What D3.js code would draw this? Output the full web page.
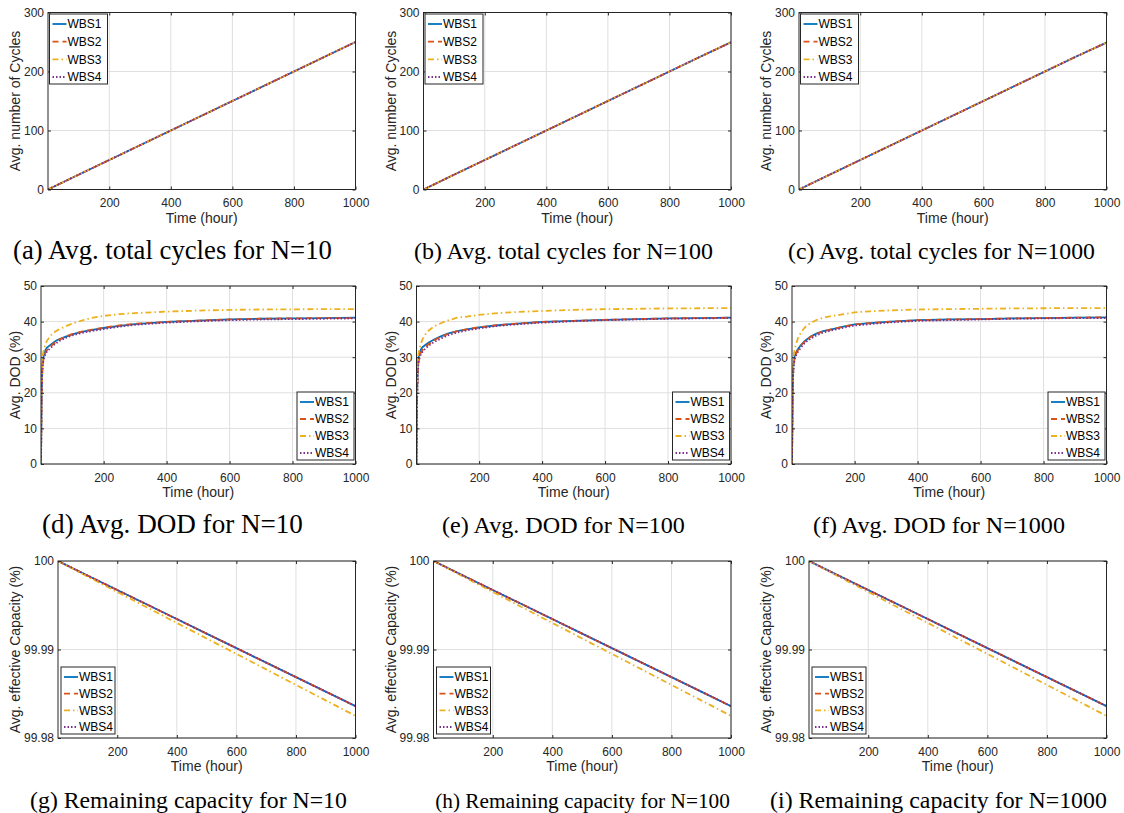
<!DOCTYPE html>
<html>
<head>
<meta charset="utf-8">
<script src="https://cdn.jsdelivr.net/npm/d3@7"></script>
<style>
  body { margin: 0; background: #fff; }
  svg { display: block; }
  .tick text { font-family: "Liberation Sans", Arial, sans-serif; font-size: 12px; fill: #262626; }
  .axis-label { font-family: "Liberation Sans", Arial, sans-serif; font-size: 14px; fill: #262626; }
  .legend-text { font-family: "Liberation Sans", Arial, sans-serif; font-size: 12px; fill: #000; }
  .caption { font-family: "Liberation Serif", "Times New Roman", serif; font-size: 26px; fill: #000; }
</style>
</head>
<body>
<div id="chart"></div>
<script>
// ---- Data ----
const seriesNames = ["WBS1", "WBS2", "WBS3", "WBS4"];

const xTicks = [200, 400, 600, 800, 1000];
const cycleTicks = [0, 100, 200, 300];
const dodTicks = [0, 10, 20, 30, 40, 50];
const capTicks = [99.98, 99.99, 100];

const captions = [
    "(a) Avg. total cycles for N=10", "(b) Avg. total cycles for N=100", "(c) Avg. total cycles for N=1000",
    "(d) Avg. DOD for N=10", "(e) Avg. DOD for N=100", "(f) Avg. DOD for N=1000",
    "(g) Remaining capacity for N=10", "(h) Remaining capacity for N=100", "(i) Remaining capacity for N=1000"
];
const yLabels = ["Avg. number of Cycles", "Avg. DOD (%)", "Avg. effective Capacity (%)"];

// total cycles (all four strategies overlap)
const cycleTime = [1, 100, 200, 300, 400, 500, 600, 700, 800, 900, 1000];
const cyclesN10 = [0, 25, 50, 75, 100, 125, 150, 175, 200, 225, 250];
const cyclesN100 = [0, 25, 50, 75, 100, 125, 150, 175, 200, 225, 249.5];
const cyclesN1000 = [0, 25, 50, 75, 100, 125, 150, 175, 200, 225, 249];

// depth of discharge
const dodTime = [1, 2, 3, 5, 7, 10, 15, 20, 30, 40, 50, 60, 80, 100, 130, 160, 200, 250, 300, 400, 500, 600, 700, 800, 900, 1000];
const dodN10Wbs1 = [0, 10, 20, 27, 29, 30.5, 32, 32.7, 33.4, 34.1, 34.7, 35.1, 35.8, 36.4, 37.1, 37.6, 38.2, 38.8, 39.3, 39.9, 40.3, 40.6, 40.8, 40.9, 41.0, 41.1];
const dodN10Wbs2 = [0, 9, 19, 26, 28.5, 30, 31.2, 32, 32.9, 33.7, 34.4, 35, 35.8, 36.5, 37.2, 37.7, 38.3, 38.9, 39.4, 39.9, 40.3, 40.6, 40.8, 40.9, 41.0, 41.0];
const dodN10Wbs3 = [0, 12, 23, 29, 30.8, 32.2, 33.6, 34.6, 35.9, 36.8, 37.4, 37.9, 38.7, 39.4, 40.3, 41.0, 41.6, 42.1, 42.4, 42.8, 43.1, 43.3, 43.4, 43.45, 43.5, 43.5];
const dodN10Wbs4 = [0, 8, 18, 25.5, 28, 29.5, 30.8, 31.6, 32.5, 33.3, 34, 34.6, 35.4, 36.1, 36.8, 37.3, 37.9, 38.6, 39.1, 39.7, 40.1, 40.4, 40.6, 40.7, 40.8, 40.9];

const dodN100Wbs1 = [0, 10, 20, 27, 29.5, 31, 32.2, 32.8, 33.5, 34.1, 34.6, 35.1, 35.9, 36.6, 37.3, 37.8, 38.4, 38.9, 39.3, 39.9, 40.2, 40.5, 40.7, 40.9, 41.0, 41.1];
const dodN100Wbs2 = [0, 9, 19, 26, 28.5, 30, 31.3, 32, 33, 33.7, 34.3, 34.9, 35.8, 36.5, 37.3, 37.8, 38.4, 38.9, 39.3, 39.9, 40.2, 40.5, 40.7, 40.9, 41.0, 41.1];
const dodN100Wbs3 = [0, 12, 23, 29, 30.8, 32.2, 33.8, 35, 36.5, 37.5, 38.2, 38.8, 39.6, 40.3, 41.1, 41.4, 41.9, 42.3, 42.6, 43.0, 43.3, 43.5, 43.6, 43.7, 43.75, 43.8];
const dodN100Wbs4 = [0, 8, 18, 25.5, 28, 29.5, 30.8, 31.5, 32.5, 33.2, 33.9, 34.4, 35.3, 36.1, 36.9, 37.5, 38.1, 38.7, 39.1, 39.7, 40.1, 40.4, 40.6, 40.8, 40.9, 41.0];

const dodN1000Wbs1 = [0, 10, 20, 27, 29, 30.5, 31.5, 32.3, 33.5, 34.4, 35.1, 35.8, 36.7, 37.3, 37.9, 38.5, 39.2, 39.6, 39.9, 40.4, 40.6, 40.7, 40.9, 41.0, 41.1, 41.2];
const dodN1000Wbs2 = [0, 9, 19, 26, 28.5, 30, 31.2, 32, 33.3, 34.3, 35, 35.7, 36.6, 37.3, 37.9, 38.5, 39.2, 39.6, 39.9, 40.4, 40.6, 40.7, 40.9, 41.0, 41.1, 41.2];
const dodN1000Wbs3 = [0, 12, 23, 29, 31, 32.5, 34, 35.3, 37, 38.2, 39, 39.6, 40.5, 41.1, 41.6, 42.0, 42.6, 42.9, 43.1, 43.4, 43.5, 43.6, 43.7, 43.75, 43.8, 43.8];
const dodN1000Wbs4 = [0, 8, 18, 25.5, 28, 29.5, 30.7, 31.5, 32.8, 33.8, 34.6, 35.2, 36.2, 36.9, 37.6, 38.2, 38.9, 39.3, 39.7, 40.2, 40.4, 40.6, 40.8, 40.9, 41.0, 41.0];

// remaining effective capacity (WBS1/2/4 coincide, WBS3 slightly lower)
const capTime = [1, 100, 200, 300, 400, 500, 600, 700, 800, 900, 1000];
const capWbs124 = [100, 99.99836, 99.99672, 99.99508, 99.99344, 99.9918, 99.99016, 99.98852, 99.98688, 99.98524, 99.9836];
const capWbs3 = [100, 99.99825, 99.9965, 99.99475, 99.993, 99.99125, 99.9895, 99.98775, 99.986, 99.98425, 99.9825];

// ---- Styles ----
const colors = ["#0072BD", "#D95319", "#EDB120", "#7E2F8E"];
const dashes = [null, "6,4", "6,3,1.5,3", "1.5,2"];

const width = 1124;
const height = 813;

const svg = d3.select("#chart")
    .append("svg")
    .attr("width", width)
    .attr("height", height);

// Layout of the 3x3 grid
const colOffset = [0, 375.5, 751];
const rows = [
    {left: 48, right: 355.5, top: 12.5, bottom: 189.5, capY: 259, yDomain: [0, 300], yTicks: cycleTicks, fmt: d3.format("d")},
    {left: 41, right: 355.5, top: 286, bottom: 464, capY: 533, yDomain: [0, 50], yTicks: dodTicks, fmt: d3.format("d")},
    {left: 58, right: 355.5, top: 561, bottom: 738, capY: 808, yDomain: [99.98, 100], yTicks: capTicks, fmt: d => d === 100 ? "100" : d3.format(".2f")(d)}
];
// left/right extent of each caption in the figure
const captionSpan = [
    [13, 332], [414, 713], [788, 1095],
    [42, 303], [442, 685], [813, 1065],
    [30, 347], [435, 730], [770, 1107]
];
const legendBoxes = [
    {w: 58, h: 70, pos: "topleft"},
    {w: 57, h: 68, pos: "bottomright"},
    {w: 54, h: 67, pos: "bottomleft"}
];

function series(time, arrays) {
    return arrays.map(vals => time.map((t, i) => [t, vals[i]]));
}

const panelSeries = [
    [series(cycleTime, [cyclesN10, cyclesN10, cyclesN10, cyclesN10]),
     series(cycleTime, [cyclesN100, cyclesN100, cyclesN100, cyclesN100]),
     series(cycleTime, [cyclesN1000, cyclesN1000, cyclesN1000, cyclesN1000])],
    [series(dodTime, [dodN10Wbs1, dodN10Wbs2, dodN10Wbs3, dodN10Wbs4]),
     series(dodTime, [dodN100Wbs1, dodN100Wbs2, dodN100Wbs3, dodN100Wbs4]),
     series(dodTime, [dodN1000Wbs1, dodN1000Wbs2, dodN1000Wbs3, dodN1000Wbs4])],
    [series(capTime, [capWbs124, capWbs124, capWbs3, capWbs124]),
     series(capTime, [capWbs124, capWbs124, capWbs3, capWbs124]),
     series(capTime, [capWbs124, capWbs124, capWbs3, capWbs124])]
];

rows.forEach((row, r) => {
    colOffset.forEach((off, c) => {
        drawPanel(row, r, c, off);
    });
});

function drawPanel(row, r, c, off) {
    const x0 = off + row.left;
    const x1 = off + row.right;
    const w = x1 - x0;
    const h = row.bottom - row.top;

    const g = svg.append("g").attr("transform", `translate(${x0},${row.top})`);

    const x = d3.scaleLinear().domain([1, 1000]).range([0, w]);
    const y = d3.scaleLinear().domain(row.yDomain).range([h, 0]);

    // grid
    g.append("g")
        .selectAll("line")
        .data(xTicks)
        .join("line")
        .attr("x1", d => x(d)).attr("x2", d => x(d))
        .attr("y1", 0).attr("y2", h)
        .attr("stroke", "#dfdfdf");
    g.append("g")
        .selectAll("line")
        .data(row.yTicks)
        .join("line")
        .attr("x1", 0).attr("x2", w)
        .attr("y1", d => y(d)).attr("y2", d => y(d))
        .attr("stroke", "#dfdfdf");

    // lines
    const clipId = `clip-${r}-${c}`;
    g.append("clipPath").attr("id", clipId)
        .append("rect").attr("width", w).attr("height", h);

    const line = d3.line().x(d => x(d[0])).y(d => y(d[1]));

    g.append("g")
        .attr("clip-path", `url(#${clipId})`)
        .selectAll("path")
        .data(panelSeries[r][c])
        .join("path")
        .attr("d", line)
        .attr("fill", "none")
        .attr("stroke", (d, i) => colors[i])
        .attr("stroke-width", 1.8)
        .attr("stroke-dasharray", (d, i) => dashes[i]);

    // axes with inward ticks
    const styleAxis = sel => {
        sel.select(".domain").remove();
        sel.selectAll(".tick line").attr("stroke", "#262626");
    };

    g.append("g")
        .attr("transform", `translate(0,${h})`)
        .call(d3.axisBottom(x).tickValues(xTicks).tickSizeInner(-3).tickSizeOuter(0).tickPadding(9).tickFormat(d3.format("d")))
        .call(styleAxis);
    g.append("g")
        .call(d3.axisTop(x).tickValues(xTicks).tickSizeInner(-3).tickSizeOuter(0).tickFormat(""))
        .call(styleAxis);
    g.append("g")
        .call(d3.axisLeft(y).tickValues(row.yTicks).tickSizeInner(-3).tickSizeOuter(0).tickPadding(4).tickFormat(row.fmt))
        .call(styleAxis);
    g.append("g")
        .attr("transform", `translate(${w},0)`)
        .call(d3.axisRight(y).tickValues(row.yTicks).tickSizeInner(-3).tickSizeOuter(0).tickFormat(""))
        .call(styleAxis);

    // box
    g.append("rect")
        .attr("width", w).attr("height", h)
        .attr("fill", "none")
        .attr("stroke", "#262626")
        .attr("stroke-width", 1);

    // axis labels
    g.append("text")
        .attr("class", "axis-label")
        .attr("x", w / 2)
        .attr("y", h + 33)
        .attr("text-anchor", "middle")
        .text("Time (hour)");

    g.append("text")
        .attr("class", "axis-label")
        .attr("transform", `translate(${off + 20 - x0},${h / 2}) rotate(-90)`)
        .attr("text-anchor", "middle")
        .text(yLabels[r]);

    // legend
    const lb = legendBoxes[r];
    let lx, ly;
    if (lb.pos === "topleft") { lx = 1.5; ly = 1.5; }
    else if (lb.pos === "bottomright") { lx = w - lb.w - 1.5; ly = h - lb.h - 4; }
    else { lx = 3; ly = h - lb.h - 4; }

    const legend = g.append("g").attr("transform", `translate(${lx},${ly})`);
    legend.append("rect")
        .attr("width", lb.w).attr("height", lb.h)
        .attr("fill", "#fff")
        .attr("stroke", "#262626")
        .attr("stroke-width", 1);

    const step = (lb.h - 17) / 3;
    seriesNames.forEach((name, i) => {
        const cy = 10 + i * step;
        legend.append("line")
            .attr("x1", 3).attr("x2", 17)
            .attr("y1", cy).attr("y2", cy)
            .attr("stroke", colors[i])
            .attr("stroke-width", 1.8)
            .attr("stroke-dasharray", dashes[i]);
        legend.append("text")
            .attr("class", "legend-text")
            .attr("x", 18)
            .attr("y", cy)
            .attr("dy", "0.36em")
            .text(name);
    });

    // caption, sized to the span it takes in the figure
    const span = captionSpan[r * 3 + c];
    const cap = svg.append("text")
        .attr("class", "caption")
        .attr("x", (span[0] + span[1]) / 2)
        .attr("y", row.capY)
        .attr("text-anchor", "middle")
        .text(captions[r * 3 + c]);
    const len = cap.node().getComputedTextLength();
    cap.style("font-size", (26 * (span[1] - span[0]) / len) + "px");
}
</script>
</body>
</html>
